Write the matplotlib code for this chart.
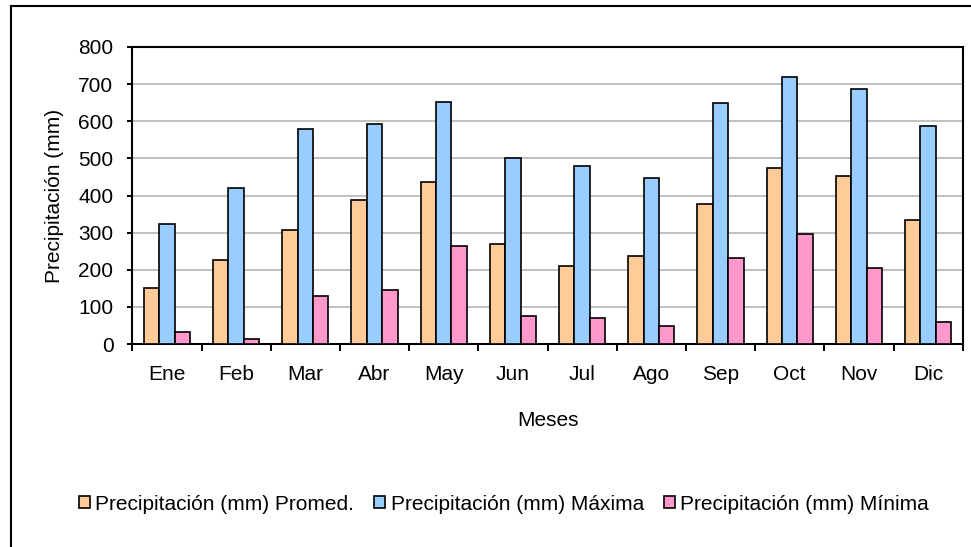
import numpy as np
import matplotlib
matplotlib.use("Agg")
import matplotlib.pyplot as plt
from matplotlib.lines import Line2D

# precipitacion mensual (mm)
meses = ["Ene", "Feb", "Mar", "Abr", "May", "Jun", "Jul", "Ago", "Sep", "Oct", "Nov", "Dic"]
promedio = [150, 225, 306, 387, 437, 269, 209, 236, 377, 474, 453, 333]
maxima = [323, 420, 578, 593, 653, 501, 480, 448, 648, 718, 686, 588]
minima = [31, 14, 128, 145, 263, 75, 69, 48, 231, 296, 204, 58]

series = [
    ("Precipitación (mm) Promed.", promedio, "#FFCC99"),
    ("Precipitación (mm) Máxima", maxima, "#99CCFF"),
    ("Precipitación (mm) Mínima", minima, "#FF99CC"),
]

plt.rcParams['font.family'] = ['Liberation Sans', 'DejaVu Sans']
fs = 15

fig = plt.figure(figsize=(9.71, 5.47), dpi=100)
W, H = 971, 547
left, right, top, bottom = 132.3, 962.7, 47, 344
ax = fig.add_axes([left / W, 1 - bottom / H, (right - left) / W, (bottom - top) / H])

x = np.arange(len(meses))
w = 1 / 4.5
for i, (nombre, vals, color) in enumerate(series):
    ax.bar(x + (i - 1) * w, vals, width=w, color=color, edgecolor="black",
           linewidth=1.2, label=nombre, zorder=3)

ax.set_xlim(-0.5, len(meses) - 0.5)
ax.set_ylim(0, 800)
ax.set_yticks(range(0, 801, 100))
ax.yaxis.grid(True, color="#BBBBBB", linewidth=1.3, zorder=0)

# etiquetas en el centro, marcas entre categorias
ax.set_xticks(x)
ax.set_xticklabels(meses)
ax.set_xticks(np.arange(-0.5, len(meses), 1), minor=True)
ax.tick_params(axis="x", which="major", length=0, pad=15, labelsize=fs)
ax.tick_params(axis="x", which="minor", length=5, width=1.4, direction="out")
ax.tick_params(axis="y", length=3.6, width=1.4, direction="out", pad=10, labelsize=fs)

for s in ax.spines.values():
    s.set_linewidth(1.5)

ax.set_ylabel("Precipitación (mm)", fontsize=fs)
ax.yaxis.set_label_coords((54 - left) / (right - left), 0.5)
ax.yaxis.label.set_verticalalignment("center")
ax.set_xlabel("Meses", fontsize=fs)
ax.xaxis.set_label_coords(0.5, (bottom - 421) / (bottom - top))
ax.xaxis.label.set_verticalalignment("center")

fig.legend(loc="center", bbox_to_anchor=(504 / W, 1 - 504 / H), ncol=3, frameon=False,
           fontsize=fs, handlelength=0.53, handleheight=0.53, handletextpad=0.25,
           columnspacing=0.96)

# borde exterior
fig.add_artist(Line2D([11 / W, 11 / W], [0, 1 - 6 / H], color="black", linewidth=1.5,
                      transform=fig.transFigure))
fig.add_artist(Line2D([11 / W, 1], [1 - 6 / H, 1 - 6 / H], color="black", linewidth=1.5,
                      transform=fig.transFigure))

fig.savefig("out.png", dpi=100)
